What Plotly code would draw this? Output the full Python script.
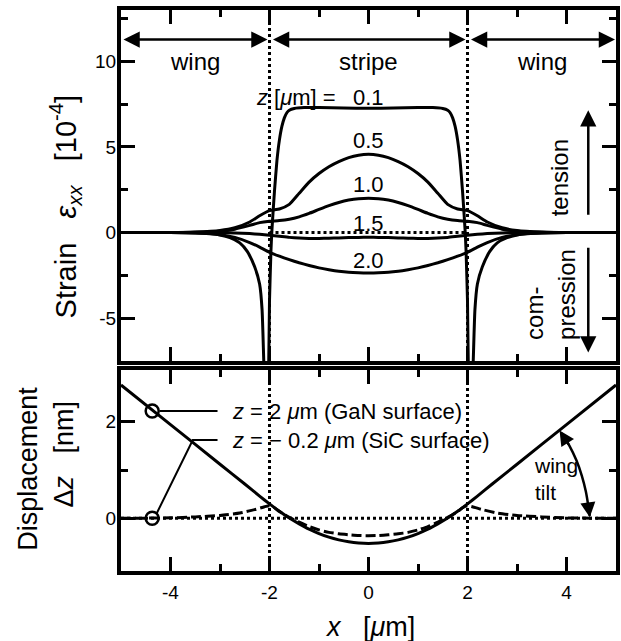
import plotly.graph_objects as go

# ---------------- data ----------------
# top panel: strain eps_xx [1e-4] vs x [um] for several depths z
X_SMOOTH = [-5, -4, -3.5, -3, -2.7, -2.4, -2.2, -2, -1.8, -1.6, -1.4, -1.2, -1, -0.8, -0.6, -0.4, -0.2, 0,
            0.2, 0.4, 0.6, 0.8, 1, 1.2, 1.4, 1.6, 1.8, 2, 2.2, 2.4, 2.7, 3, 3.5, 4, 5]
EPS_Z05 = [0, 0, 0.03, 0.12, 0.28, 0.62, 0.98, 1.28, 1.38, 1.65, 2.3, 2.95, 3.45, 3.85, 4.15, 4.38, 4.52, 4.57,
           4.52, 4.38, 4.15, 3.85, 3.45, 2.95, 2.3, 1.65, 1.38, 1.28, 0.98, 0.62, 0.28, 0.12, 0.03, 0, 0]
EPS_Z10 = [0, 0, 0.02, 0.08, 0.2, 0.42, 0.58, 0.66, 0.7, 0.78, 0.92, 1.12, 1.35, 1.57, 1.76, 1.9, 1.98, 2.0,
           1.98, 1.9, 1.76, 1.57, 1.35, 1.12, 0.92, 0.78, 0.7, 0.66, 0.58, 0.42, 0.2, 0.08, 0.02, 0, 0]
EPS_Z15 = [0, 0, 0, 0, -0.02, -0.06, -0.1, -0.16, -0.22, -0.28, -0.32, -0.34, -0.34, -0.33, -0.31, -0.29, -0.28, -0.27,
           -0.28, -0.29, -0.31, -0.33, -0.34, -0.34, -0.32, -0.28, -0.22, -0.16, -0.1, -0.06, -0.02, 0, 0, 0, 0]
EPS_Z20 = [0, 0, -0.02, -0.12, -0.28, -0.58, -0.85, -1.15, -1.38, -1.58, -1.76, -1.92, -2.06, -2.17, -2.26, -2.32, -2.35, -2.36,
           -2.35, -2.32, -2.26, -2.17, -2.06, -1.92, -1.76, -1.58, -1.38, -1.15, -0.85, -0.58, -0.28, -0.12, -0.02, 0, 0]

X_Z01 = [-5, -4, -3.5, -3.2, -3.0, -2.8, -2.6, -2.45, -2.3, -2.2, -2.15, -2.11, -2.06, -2.02, -2.0, -1.97, -1.95,
         -1.9, -1.85, -1.8, -1.75, -1.7, -1.65, -1.6, -1.5, -1.3, -1.0, -0.5, 0,
         0.5, 1.0, 1.3, 1.5, 1.6, 1.65, 1.7, 1.75, 1.8, 1.85, 1.9, 1.95, 1.97, 2.0, 2.02, 2.06, 2.11, 2.15,
         2.2, 2.3, 2.45, 2.6, 2.8, 3.0, 3.2, 3.5, 4, 5]
EPS_Z01 = [0, 0, -0.02, -0.06, -0.14, -0.3, -0.6, -1.1, -2.0, -3.0, -4.5, -8.0, -11, -8.5, -4.0, -1.0, 0.2,
           2.4, 4.2, 5.4, 6.2, 6.7, 7.0, 7.15, 7.25, 7.3, 7.3, 7.27, 7.26,
           7.27, 7.3, 7.3, 7.25, 7.15, 7.0, 6.7, 6.2, 5.4, 4.2, 2.4, 0.2, -1.0, -4.0, -8.5, -11, -8.0, -4.5,
           -3.0, -2.0, -1.1, -0.6, -0.3, -0.14, -0.06, -0.02, 0, 0]

Z_LABELS = ["0.1", "0.5", "1.0", "1.5", "2.0"]
Z_LABEL_Y = [7.9, 5.35, 2.78, 0.55, -1.62]

# bottom panel: displacement dz [nm]
X_GAN = [-5, -4, -3, -2.5, -2.2, -2, -1.8, -1.6, -1.4, -1.2, -1, -0.8, -0.6, -0.4, -0.2, 0,
         0.2, 0.4, 0.6, 0.8, 1, 1.2, 1.4, 1.6, 1.8, 2, 2.2, 2.5, 3, 4, 5]
DZ_GAN = [2.76, 1.94, 1.12, 0.71, 0.46, 0.30, 0.145, 0.005, -0.115, -0.225, -0.315, -0.39, -0.445, -0.485, -0.51, -0.52,
          -0.51, -0.485, -0.445, -0.39, -0.315, -0.225, -0.115, 0.005, 0.145, 0.30, 0.46, 0.71, 1.12, 1.94, 2.76]
X_SIC = [-5, -4, -3.5, -3, -2.6, -2.3, -2.1, -2, -1.9, -1.8, -1.6, -1.4, -1.2, -1, -0.8, -0.6, -0.4, -0.2, 0,
         0.2, 0.4, 0.6, 0.8, 1, 1.2, 1.4, 1.6, 1.8, 1.9, 2, 2.1, 2.3, 2.6, 3, 3.5, 4, 5]
DZ_SIC = [0, 0.01, 0.03, 0.06, 0.11, 0.18, 0.24, 0.26, 0.22, 0.14, 0.02, -0.08, -0.17, -0.24, -0.29, -0.32, -0.34, -0.355, -0.36,
          -0.355, -0.34, -0.32, -0.29, -0.24, -0.17, -0.08, 0.02, 0.14, 0.22, 0.26, 0.24, 0.18, 0.11, 0.06, 0.03, 0.01, 0]

STRIPE_EDGES = [-2, 2]
REGION_LABELS = ["wing", "stripe", "wing"]
REGION_CENTERS = [-3.5, 0, 3.5]
REGION_BOUNDS = [(-4.98, -2.04), (-1.96, 1.96), (2.04, 4.98)]

# legend call-out geometry (data units of bottom panel)
LEG_CIRCLE_X = [-4.37, -4.37]
LEG_CIRCLE_Y = [2.22, 0.0]
LEG1_X = [-4.22, -3.05]
LEG1_Y = [2.22, 2.22]
LEG2_X = [-4.28, -3.55, -3.05]
LEG2_Y = [0.1, 1.62, 1.62]
TILT_X = [3.9, 4.06, 4.2, 4.31, 4.39, 4.44, 4.47]
TILT_Y = [1.76, 1.5, 1.2, 0.88, 0.56, 0.26, 0.05]

FONT = "Liberation Sans, Arial, Helvetica, sans-serif"
BLACK = "black"
SP = "\u00a0"

fig = go.Figure()

# ---- top panel traces
for xs, ys in [(X_Z01, EPS_Z01), (X_SMOOTH, EPS_Z05), (X_SMOOTH, EPS_Z10),
               (X_SMOOTH, EPS_Z15), (X_SMOOTH, EPS_Z20)]:
    fig.add_trace(go.Scatter(x=xs, y=ys, mode="lines", xaxis="x2", yaxis="y2",
                             line=dict(color=BLACK, width=3, shape="spline", smoothing=0.5),
                             showlegend=False, hoverinfo="skip"))

# ---- bottom panel traces
fig.add_trace(go.Scatter(x=X_GAN, y=DZ_GAN, mode="lines", xaxis="x", yaxis="y",
                         line=dict(color=BLACK, width=3, shape="spline", smoothing=0.5),
                         showlegend=False, hoverinfo="skip"))
fig.add_trace(go.Scatter(x=X_SIC, y=DZ_SIC, mode="lines", xaxis="x", yaxis="y",
                         line=dict(color=BLACK, width=3, dash="10px,4px", shape="spline", smoothing=0.5),
                         showlegend=False, hoverinfo="skip"))
fig.add_trace(go.Scatter(x=LEG1_X, y=LEG1_Y, mode="lines", xaxis="x", yaxis="y",
                         line=dict(color=BLACK, width=2), showlegend=False, hoverinfo="skip"))
fig.add_trace(go.Scatter(x=LEG2_X, y=LEG2_Y, mode="lines", xaxis="x", yaxis="y",
                         line=dict(color=BLACK, width=2), showlegend=False, hoverinfo="skip"))
fig.add_trace(go.Scatter(x=LEG_CIRCLE_X, y=LEG_CIRCLE_Y, mode="markers", xaxis="x", yaxis="y",
                         marker=dict(symbol="circle-open", size=13, color=BLACK, line=dict(width=2.5)),
                         showlegend=False, hoverinfo="skip"))
fig.add_trace(go.Scatter(x=TILT_X, y=TILT_Y, mode="lines", xaxis="x", yaxis="y",
                         line=dict(color=BLACK, width=2.5, shape="spline"), showlegend=False, hoverinfo="skip"))

shapes = []
for xe in STRIPE_EDGES:
    shapes.append(dict(type="line", xref="x2", yref="y2 domain", x0=xe, x1=xe, y0=0, y1=1,
                       line=dict(color=BLACK, width=3, dash="dot"), layer="below"))
    shapes.append(dict(type="line", xref="x", yref="y domain", x0=xe, x1=xe, y0=0, y1=1,
                       line=dict(color=BLACK, width=3, dash="dot"), layer="below"))
shapes.append(dict(type="line", xref="x2", yref="y2", x0=STRIPE_EDGES[0], x1=STRIPE_EDGES[1], y0=0, y1=0,
                   line=dict(color=BLACK, width=3, dash="dot"), layer="below"))
shapes.append(dict(type="line", xref="x domain", yref="y", x0=0, x1=1, y0=0, y1=0,
                   line=dict(color=BLACK, width=3, dash="dot"), layer="below"))

ann = []
# region arrows and labels
for (a, b), lab, c in zip(REGION_BOUNDS, REGION_LABELS, REGION_CENTERS):
    ann.append(dict(x=b, y=11.27, ax=a, ay=11.27, xref="x2", yref="y2", axref="x2", ayref="y2",
                    text="", showarrow=True, arrowhead=2, startarrowhead=2, arrowside="end+start",
                    arrowsize=1.3, startarrowsize=1.3, arrowwidth=2.5, arrowcolor=BLACK, standoff=0, startstandoff=0))
    ann.append(dict(x=c, y=10.0, xref="x2", yref="y2", text=lab, showarrow=False,
                    xanchor="center", yanchor="middle",
                    font=dict(size=24, family=FONT, color=BLACK)))
# z labels
ann.append(dict(x=-0.62, y=Z_LABEL_Y[0], xref="x2", yref="y2", xanchor="right", yanchor="middle",
                text="<i>z</i> [<i>μ</i>m] =", showarrow=False, font=dict(size=22, family=FONT, color=BLACK)))
for lab, yy in zip(Z_LABELS, Z_LABEL_Y):
    ann.append(dict(x=0, y=yy, xref="x2", yref="y2", text=lab, showarrow=False,
                    xanchor="center", yanchor="middle",
                    font=dict(size=22, family=FONT, color=BLACK)))
# tension / compression
ann.append(dict(x=3.86, y=3.2, xref="x2", yref="y2", text="tension", textangle=-90, showarrow=False,
                xanchor="center", yanchor="middle",
                font=dict(size=24, family=FONT, color=BLACK)))
ann.append(dict(x=3.68, y=-3.6, xref="x2", yref="y2", text="com-<br>pression", textangle=-90, showarrow=False,
                xanchor="center", yanchor="middle",
                align="left", font=dict(size=24, family=FONT, color=BLACK)))
ann.append(dict(x=4.44, y=7.15, ax=4.44, ay=0.95, xref="x2", yref="y2", axref="x2", ayref="y2",
                text="", showarrow=True, arrowhead=2, arrowsize=1.3, arrowwidth=2.5, arrowcolor=BLACK, standoff=0))
ann.append(dict(x=4.44, y=-7.0, ax=4.44, ay=-0.8, xref="x2", yref="y2", axref="x2", ayref="y2",
                text="", showarrow=True, arrowhead=2, arrowsize=1.3, arrowwidth=2.5, arrowcolor=BLACK, standoff=0))
# bottom legend text
ann.append(dict(x=-2.8, y=LEG1_Y[0], xref="x", yref="y", xanchor="left", yanchor="middle",
                text="<i>z</i> = 2 <i>μ</i>m (GaN surface)", showarrow=False,
                font=dict(size=22, family=FONT, color=BLACK)))
ann.append(dict(x=-2.8, y=LEG2_Y[-1], xref="x", yref="y", xanchor="left", yanchor="middle",
                text="<i>z</i> = − 0.2 <i>μ</i>m (SiC surface)", showarrow=False,
                font=dict(size=22, family=FONT, color=BLACK)))
ann.append(dict(x=3.3, y=0.82, xref="x", yref="y", xanchor="left", yanchor="middle", align="left",
                text="wing<br>tilt", showarrow=False, font=dict(size=21, family=FONT, color=BLACK)))
ann.append(dict(x=TILT_X[0] - 0.04, y=TILT_Y[0] + 0.06, ax=TILT_X[1], ay=TILT_Y[1], xref="x", yref="y",
                axref="x", ayref="y", text="", showarrow=True, arrowhead=2, arrowsize=1.2, arrowwidth=2.5,
                arrowcolor=BLACK, standoff=0))
ann.append(dict(x=TILT_X[-1], y=TILT_Y[-1] - 0.03, ax=TILT_X[-2], ay=TILT_Y[-2], xref="x", yref="y",
                axref="x", ayref="y", text="", showarrow=True, arrowhead=2, arrowsize=1.2, arrowwidth=2.5,
                arrowcolor=BLACK, standoff=0))
# axis titles
L, W, B, H = 121, 499, 70, 561
def px(xp):
    return (xp - L) / W
def py(yp):
    return (641 - B - yp) / H
title_font = dict(size=27, family=FONT, color=BLACK)
ann.append(dict(x=px(65), y=py(206), xref="paper", yref="paper", textangle=-90, showarrow=False,
                xanchor="center", yanchor="middle",
                text="Strain" + SP * 3 + "<i>ε</i><sub><i>xx</i></sub>" + SP * 3 + "[10<sup>-4</sup>]",
                font=dict(size=29, family=FONT, color=BLACK)))
ann.append(dict(x=px(27), y=py(469), xref="paper", yref="paper", textangle=-90, showarrow=False,
                xanchor="center", yanchor="middle", text="Displacement", font=title_font))
ann.append(dict(x=px(64), y=py(454), xref="paper", yref="paper", textangle=-90, showarrow=False,
                xanchor="center", yanchor="middle", text="Δ<i>z</i>" + SP * 3 + "[nm]", font=title_font))
ann.append(dict(x=px(372), y=py(627), xref="paper", yref="paper", showarrow=False,
                xanchor="center", yanchor="middle", text="<i>x</i>" + SP * 3 + "[<i>μ</i>m]", font=title_font))

axis_common = dict(showline=True, linecolor=BLACK, linewidth=4, mirror="allticks", ticks="inside",
                   tickcolor=BLACK, tickwidth=3, ticklen=14, showgrid=False, zeroline=False,
                   tickfont=dict(size=19, family=FONT, color=BLACK))
minor_common = dict(ticks="inside", ticklen=7, tickwidth=3, tickcolor=BLACK, showgrid=False)

fig.update_layout(
    width=621, height=641,
    margin=dict(l=L, r=1, t=10, b=B),
    paper_bgcolor="white", plot_bgcolor="white",
    showlegend=False,
    xaxis=dict(domain=[0, 1], range=[-5, 5], anchor="y", tickmode="array", tickvals=[-4, -2, 0, 2, 4],
               ticktext=["-4", "-2", "0", "2", "4"], ticklabelstandoff=1,
               minor=dict(tickmode="array", tickvals=[-3, -1, 1, 3], **minor_common), **axis_common),
    yaxis=dict(domain=[0, py(370)], range=[-1.09, 3.07], anchor="x", tickmode="array", tickvals=[0, 2],
               ticktext=["0", "2"], ticklabelstandoff=-3,
               minor=dict(tickmode="array", tickvals=[1], **minor_common), **axis_common),
    xaxis2=dict(domain=[0, 1], range=[-5, 5], anchor="y2", matches="x", showticklabels=False,
                tickmode="array", tickvals=[-4, -2, 0, 2, 4],
                minor=dict(tickmode="array", tickvals=[-3, -1, 1, 3], **minor_common), **axis_common),
    yaxis2=dict(domain=[py(361), 1], range=[-7.5, 13], anchor="x2", tickmode="array",
                tickvals=[-5, 0, 5, 10], ticktext=["-5", "0", "5", "10"], ticklabelstandoff=-3,
                minor=dict(tickmode="array", tickvals=[-2.5, 2.5, 7.5, 12.5], **minor_common), **axis_common),
    shapes=shapes,
    annotations=ann,
)

fig.write_html("out.html")
